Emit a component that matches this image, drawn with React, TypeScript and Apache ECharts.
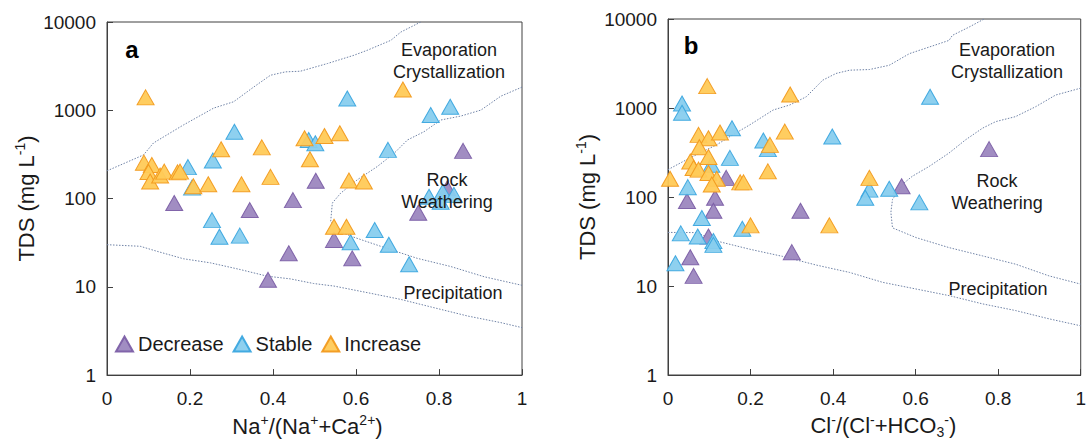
import React, { useEffect, useRef } from "react";
import * as echarts from "echarts";

// ---------- tick labels & names ----------
const xTickLabels = ["0", "0.2", "0.4", "0.6", "0.8", "1"];
const yTickLabels = ["1", "10", "100", "1000", "10000"];
const seriesNames = ["Decrease", "Stable", "Increase"];

// ---------- panel a : Na+/(Na+ + Ca2+) vs TDS ----------
const leftDecrease = [
  [0.162, 89], [0.344, 74], [0.448, 96], [0.503, 159], [0.438, 24], [0.388, 12],
  [0.858, 347], [0.75, 69], [0.82, 131], [0.547, 34], [0.591, 21],
];
const leftStable = [
  [0.195, 227], [0.205, 133], [0.255, 270], [0.307, 572], [0.486, 461], [0.502, 423],
  [0.253, 57], [0.271, 37], [0.32, 38], [0.579, 1362], [0.78, 883], [0.827, 1096],
  [0.677, 356], [0.776, 105], [0.804, 92], [0.809, 119], [0.836, 110], [0.645, 44],
  [0.587, 32], [0.679, 30], [0.728, 18],
];
const leftIncrease = [
  [0.093, 1400], [0.089, 255], [0.108, 240], [0.1, 200], [0.104, 156], [0.128, 182],
  [0.138, 202], [0.17, 198], [0.176, 202], [0.208, 138], [0.244, 145], [0.275, 362],
  [0.324, 145], [0.373, 380], [0.394, 176], [0.476, 482], [0.489, 279], [0.524, 512],
  [0.561, 548], [0.713, 1720], [0.583, 160], [0.619, 156], [0.547, 48], [0.577, 48],
];
const leftUpperCurve = [
  [0, 206], [0.088, 312], [0.112, 426], [0.184, 681], [0.257, 1058], [0.305, 1248],
  [0.354, 1841], [0.394, 2495], [0.43, 2723], [0.466, 2770], [0.531, 3383],
  [0.595, 4200], [0.627, 4780], [0.684, 6200], [0.708, 7690], [0.756, 10000],
];
const leftMiddleCurve = [
  [1.0, 1830], [0.949, 1445], [0.901, 1005], [0.853, 861], [0.804, 775], [0.764, 572],
  [0.724, 461], [0.692, 326], [0.651, 230], [0.603, 163], [0.563, 115], [0.543, 89],
  [0.539, 55], [0.563, 42], [0.591, 37], [0.667, 28], [0.748, 21], [0.828, 17],
  [0.909, 13], [1.0, 10.4],
];
const leftLowerCurve = [
  [0, 30], [0.08, 28.8], [0.12, 25.3], [0.184, 20.8], [0.249, 18.7], [0.321, 15.7],
  [0.386, 13.2], [0.442, 12.3], [0.498, 10.9], [0.547, 10.2], [0.627, 8.6],
  [0.708, 7.2], [0.788, 5.8], [0.869, 4.67], [0.949, 3.93], [1.0, 3.45],
];

// ---------- panel b : Cl-/(Cl- + HCO3-) vs TDS ----------
const rightDecrease = [
  [0.141, 164], [0.114, 98], [0.11, 70], [0.046, 90], [0.098, 36], [0.054, 21],
  [0.062, 13], [0.321, 70], [0.3, 24], [0.778, 345], [0.566, 132],
];
const rightStable = [
  [0.034, 1125], [0.034, 886], [0.155, 593], [0.231, 431], [0.242, 345], [0.15, 275],
  [0.105, 230], [0.048, 129], [0.082, 58], [0.031, 39], [0.072, 36], [0.11, 32],
  [0.11, 29], [0.18, 44], [0.018, 18], [0.398, 478], [0.635, 1337], [0.488, 121],
  [0.478, 98], [0.536, 124], [0.609, 87],
];
const rightIncrease = [
  [0.095, 1760], [0.296, 1420], [0.074, 499], [0.098, 457], [0.126, 530], [0.076, 363],
  [0.098, 281], [0.054, 251], [0.062, 212], [0.074, 203], [0.098, 186], [0.118, 160],
  [0.106, 138], [0.005, 160], [0.175, 146], [0.183, 146], [0.242, 194], [0.283, 543],
  [0.247, 385], [0.2, 48], [0.391, 48], [0.488, 164],
];
const rightUpperCurve = [
  [0, 203], [0.037, 251], [0.077, 312], [0.118, 386], [0.15, 478], [0.198, 646],
  [0.255, 950], [0.295, 1081], [0.335, 1337], [0.375, 2055], [0.407, 2443],
  [0.44, 2660], [0.488, 2706], [0.536, 3020], [0.585, 4083], [0.633, 4843],
  [0.681, 5750], [0.689, 6546], [0.729, 8090], [0.766, 10000],
];
const rightMiddleCurve = [
  [1.0, 1672], [0.939, 1397], [0.891, 1035], [0.842, 800], [0.794, 703], [0.762, 593],
  [0.721, 439], [0.681, 312], [0.633, 221], [0.592, 171], [0.572, 144], [0.544, 94],
  [0.54, 67], [0.544, 45], [0.601, 35], [0.681, 27], [0.762, 21.8], [0.842, 17.6],
  [0.923, 13], [1.0, 10.5],
];
const rightLowerCurve = [
  [0, 40], [0.069, 39.8], [0.118, 32], [0.198, 25.9], [0.278, 21.5], [0.359, 17.2],
  [0.44, 14.2], [0.52, 11], [0.601, 9.25], [0.681, 7.8], [0.762, 6.3], [0.842, 5.3],
  [0.923, 4.28], [1.0, 3.57],
];

const FONT = "'Liberation Sans', Arial, Helvetica, sans-serif";
const TEXT = "#1a1a1a";
const AXIS = "#404040";
const CURVE = "#7083a6";
const palette: Record<string, { fill: string; stroke: string }> = {
  Decrease: { fill: "#9c87bf", stroke: "#7c5fa7" },
  Stable: { fill: "#88cdee", stroke: "#3ba7df" },
  Increase: { fill: "#ffca57", stroke: "#f29a1d" },
};

const rich = {
  sup: { fontSize: 14, lineHeight: 14, verticalAlign: "top", fontFamily: FONT, color: TEXT },
  sub: { fontSize: 14, lineHeight: 14, verticalAlign: "bottom", fontFamily: FONT, color: TEXT },
};

function xAxis(gridIndex: number, name: string, padding: number[]) {
  return {
    type: "value",
    gridIndex,
    min: 0,
    max: 1,
    interval: 0.2,
    name,
    nameLocation: "middle",
    nameGap: 33,
    nameTextStyle: { fontFamily: FONT, fontSize: 22, color: TEXT, lineHeight: 26, padding, rich },
    axisLine: { show: true, onZero: false, lineStyle: { color: AXIS, width: 1 } },
    axisTick: { show: true, inside: true, length: 6, lineStyle: { color: AXIS } },
    axisLabel: {
      fontFamily: FONT,
      fontSize: 19,
      color: TEXT,
      margin: 14,
      formatter: (v: number) => xTickLabels[Math.round(v / 0.2)],
    },
    splitLine: { show: false },
  };
}

function yAxis(gridIndex: number) {
  return {
    type: "log",
    logBase: 10,
    gridIndex,
    min: 1,
    max: 10000,
    name: "TDS (mg L{sup|-1})",
    nameLocation: "middle",
    nameRotate: 90,
    nameGap: 67,
    nameTextStyle: { fontFamily: FONT, fontSize: 22, color: TEXT, lineHeight: 26, rich },
    axisLine: { show: true, onZero: false, lineStyle: { color: AXIS, width: 1 } },
    axisTick: { show: true, inside: true, length: 6, lineStyle: { color: AXIS } },
    axisLabel: {
      fontFamily: FONT,
      fontSize: 19,
      color: TEXT,
      margin: 11,
      formatter: (v: number) => yTickLabels[Math.round(Math.log10(v))],
    },
    splitLine: { show: false },
    minorTick: { show: false },
  };
}

function scatter(name: string, data: number[][], idx: number) {
  return {
    type: "scatter",
    name,
    data,
    xAxisIndex: idx,
    yAxisIndex: idx,
    symbol: "triangle",
    symbolSize: [17, 15],
    itemStyle: {
      color: palette[name].fill,
      borderColor: palette[name].stroke,
      borderWidth: 1,
      opacity: 0.95,
    },
    z: 3,
  };
}

function curve(data: number[][], idx: number) {
  return {
    type: "line",
    data,
    xAxisIndex: idx,
    yAxisIndex: idx,
    symbol: "none",
    silent: true,
    smooth: false,
    lineStyle: { type: [1.5, 1.5], color: CURVE, width: 1 },
    z: 2,
  };
}

function label(text: string, x: number, y: number, size = 18, bold = false) {
  return {
    type: "text",
    x,
    y,
    z: 10,
    silent: true,
    style: {
      text,
      fontFamily: FONT,
      fontSize: size,
      fontWeight: bold ? "bold" : "normal",
      fill: bold ? "#000" : TEXT,
      align: "center",
      verticalAlign: "middle",
    },
  };
}

export default function App() {
  const ref = useRef<HTMLDivElement>(null);

  useEffect(() => {
    if (!ref.current) return;
    const chart = echarts.init(ref.current, undefined, { renderer: "svg" });
    chart.setOption({
      animation: false,
      backgroundColor: "#ffffff",
      textStyle: { fontFamily: FONT },
      grid: [
        { left: 107, top: 22, width: 415, height: 354, show: true, borderColor: AXIS, borderWidth: 1 },
        { left: 668, top: 19, width: 414, height: 356, show: true, borderColor: AXIS, borderWidth: 1 },
      ],
      xAxis: [
        xAxis(0, "Na{sup|+}/(Na{sup|+}+Ca{sup|2+})", [0, 14, 0, 0]),
        xAxis(1, "Cl{sup|-}/(Cl{sup|-}+HCO{sub|3}{sup|-})", [0, 0, 0, 18]),
      ],
      yAxis: [yAxis(0), yAxis(1)],
      legend: {
        left: 115,
        top: 334,
        padding: 0,
        icon: "triangle",
        itemWidth: 17,
        itemHeight: 15,
        itemGap: 9,
        selectedMode: false,
        data: seriesNames,
        textStyle: { fontFamily: FONT, fontSize: 20, color: TEXT },
      },
      series: [
        curve(leftUpperCurve, 0),
        curve(leftMiddleCurve, 0),
        curve(leftLowerCurve, 0),
        curve(rightUpperCurve, 1),
        curve(rightMiddleCurve, 1),
        curve(rightLowerCurve, 1),
        scatter("Decrease", leftDecrease, 0),
        scatter("Stable", leftStable, 0),
        scatter("Increase", leftIncrease, 0),
        scatter("Decrease", rightDecrease, 1),
        scatter("Stable", rightStable, 1),
        scatter("Increase", rightIncrease, 1),
      ],
      graphic: [
        label("a", 132, 49, 24, true),
        label("b", 691, 45, 24, true),
        label("Evaporation", 449, 50),
        label("Crystallization", 449, 72),
        label("Rock", 447, 180),
        label("Weathering", 447, 202),
        label("Precipitation", 453, 293),
        label("Evaporation", 1007, 50),
        label("Crystallization", 1007, 72),
        label("Rock", 997, 181),
        label("Weathering", 997, 203),
        label("Precipitation", 998, 289),
      ],
    });
    return () => chart.dispose();
  }, []);

  return (
    <div
      ref={ref}
      style={{ position: "absolute", left: 0, top: 0, width: 1089, height: 444, background: "#fff" }}
    />
  );
}
